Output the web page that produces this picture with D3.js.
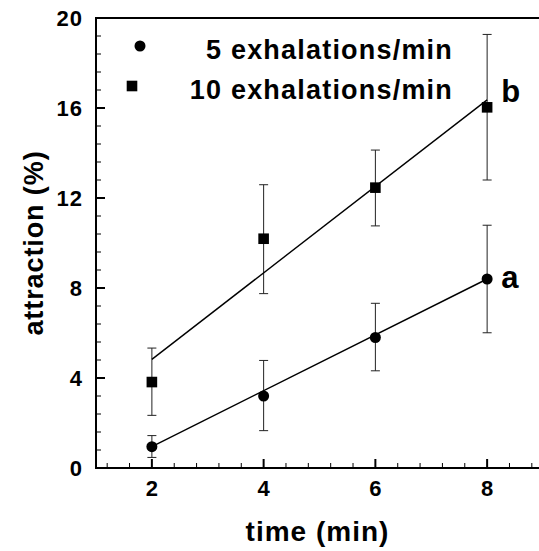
<!DOCTYPE html>
<html>
<head>
<meta charset="utf-8">
<script src="https://cdn.jsdelivr.net/npm/d3@7"></script>
<style>
    body { margin: 0; background: #fff; }
    svg { display: block; }
    text { font-family: "Liberation Sans", Arial, sans-serif; font-weight: bold; fill: #000; }
</style>
</head>
<body>
<script>
// values
const times = [2, 4, 6, 8];

const slowMean = [0.95, 3.2, 5.8, 8.4];
const slowHigh = [1.44, 4.78, 7.32, 10.79];
const slowLow = [0.47, 1.66, 4.32, 6.01];

const fastMean = [3.82, 10.19, 12.46, 16.03];
const fastHigh = [5.33, 12.59, 14.13, 19.27];
const fastLow = [2.34, 7.75, 10.76, 12.8];

// fitted lines, read at the two ends
const fitX = [2, 8];
const slowFit = [0.95, 8.4];
const fastFit = [4.83, 16.36];

const xTicks = [2, 4, 6, 8];
const yTicks = [0, 4, 8, 12, 16, 20];
const xMinor = [1.2, 1.6, 2.4, 2.8, 3.2, 3.6, 4.4, 4.8, 5.2, 5.6, 6.4, 6.8, 7.2, 7.6, 8.4, 8.8];
const yMinor = [0.8, 1.6, 2.4, 3.2, 4.8, 5.6, 6.4, 7.2, 8.8, 9.6, 10.4, 11.2, 12.8, 13.6, 14.4, 15.2, 16.8, 17.6, 18.4, 19.2];
const seriesNames = ["5 exhalations/min", "10 exhalations/min"];

const width = 539,
    height = 551,
    margin = { top: 18, right: -4, bottom: 83, left: 96 };

const svg = d3.select("body").append("svg")
    .attr("width", width)
    .attr("height", height);

const x = d3.scaleLinear()
    .domain([1, 9])
    .range([margin.left, width - margin.right]);

const y = d3.scaleLinear()
    .domain([0, 20])
    .range([height - margin.bottom, margin.top]);

// axes with labels only, ticks drawn below pointing inward
const xAxis = svg.append("g")
    .attr("transform", `translate(0,${y(0)})`)
    .call(d3.axisBottom(x).tickValues(xTicks).tickSize(0).tickPadding(12));

const yAxis = svg.append("g")
    .attr("transform", `translate(${x(1)},0)`)
    .call(d3.axisLeft(y).tickValues(yTicks).tickSize(0).tickPadding(13));

[xAxis, yAxis].forEach(g => {
    g.select(".domain").remove();
    g.selectAll(".tick text")
        .attr("font-size", 22)
        .attr("letter-spacing", 1)
        .attr("font-family", null);
});

const ticks = svg.append("g").attr("stroke", "#000");

ticks.selectAll(null)
    .data(xTicks.map(v => ({ v, len: 9 })).concat(xMinor.map(v => ({ v, len: 5 }))))
    .enter()
    .append("line")
    .attr("x1", d => x(d.v))
    .attr("x2", d => x(d.v))
    .attr("y1", y(0))
    .attr("y2", d => y(0) - d.len)
    .attr("stroke-width", d => d.len > 5 ? 2 : 1);

ticks.selectAll(null)
    .data(yTicks.map(v => ({ v, len: 9 })).concat(yMinor.map(v => ({ v, len: 5 }))))
    .enter()
    .append("line")
    .attr("x1", x(1))
    .attr("x2", d => x(1) + d.len)
    .attr("y1", d => y(d.v))
    .attr("y2", d => y(d.v))
    .attr("stroke-width", d => d.len > 5 ? 2 : 1);

// frame: left, bottom, top
svg.append("path")
    .attr("d", `M${width},${y(20)}H${x(1)}V${y(0)}H${width}`)
    .attr("fill", "none")
    .attr("stroke", "#000")
    .attr("stroke-width", 2);

// axis titles
svg.append("text")
    .attr("x", (x(1) + width) / 2)
    .attr("y", 541)
    .attr("text-anchor", "middle")
    .attr("font-size", 28)
    .attr("letter-spacing", 1)
    .text("time (min)");

svg.append("text")
    .attr("transform", `translate(43,${(y(0) + y(20)) / 2}) rotate(-90)`)
    .attr("text-anchor", "middle")
    .attr("font-size", 27)
    .attr("letter-spacing", 0.9)
    .text("attraction (%)");

const series = [
    { mean: slowMean, high: slowHigh, low: slowLow, fit: slowFit, shape: "circle", tag: "a" },
    { mean: fastMean, high: fastHigh, low: fastLow, fit: fastFit, shape: "square", tag: "b" }
];

const plot = svg.append("g");

series.forEach(s => {
    const pts = times.map((t, i) => ({ t, m: s.mean[i], hi: s.high[i], lo: s.low[i] }));

    // error bars
    const bars = plot.append("g")
        .attr("stroke", "#222")
        .attr("stroke-width", 1);

    bars.selectAll(null)
        .data(pts)
        .enter()
        .append("line")
        .attr("x1", d => x(d.t))
        .attr("x2", d => x(d.t))
        .attr("y1", d => y(d.lo))
        .attr("y2", d => y(d.hi));

    ["hi", "lo"].forEach(k => {
        bars.selectAll(null)
            .data(pts)
            .enter()
            .append("line")
            .attr("x1", d => x(d.t) - 4.5)
            .attr("x2", d => x(d.t) + 4.5)
            .attr("y1", d => y(d[k]))
            .attr("y2", d => y(d[k]));
    });

    // fitted line
    plot.append("line")
        .attr("x1", x(fitX[0]))
        .attr("x2", x(fitX[1]))
        .attr("y1", y(s.fit[0]))
        .attr("y2", y(s.fit[1]))
        .attr("stroke", "#000")
        .attr("stroke-width", 1.4);

    // markers
    if (s.shape === "circle") {
        plot.selectAll(null)
            .data(pts)
            .enter()
            .append("circle")
            .attr("cx", d => x(d.t))
            .attr("cy", d => y(d.m))
            .attr("r", 5.5)
            .attr("fill", "#000");
    } else {
        plot.selectAll(null)
            .data(pts)
            .enter()
            .append("rect")
            .attr("x", d => x(d.t) - 5.3)
            .attr("y", d => y(d.m) - 5.3)
            .attr("width", 10.6)
            .attr("height", 10.6)
            .attr("fill", "#000");
    }

    // letter beside last point
    const last = pts[pts.length - 1];
    svg.append("text")
        .attr("x", x(last.t) + 14)
        .attr("y", s.shape === "circle" ? y(last.m) + 9 : y(s.fit[1]) + 2)
        .attr("font-size", 31)
        .text(s.tag);
});

// legend
const legend = svg.append("g");

legend.append("circle")
    .attr("cx", 140)
    .attr("cy", 46)
    .attr("r", 5.5)
    .attr("fill", "#000");

legend.append("rect")
    .attr("x", 132 - 5.3)
    .attr("y", 86 - 5.3)
    .attr("width", 10.6)
    .attr("height", 10.6)
    .attr("fill", "#000");

legend.selectAll("text")
    .data(seriesNames)
    .enter()
    .append("text")
    .attr("x", 453)
    .attr("y", (d, i) => 59 + i * 40)
    .attr("text-anchor", "end")
    .attr("font-size", 27)
    .attr("letter-spacing", 1.2)
    .text(d => d);
</script>
</body>
</html>
